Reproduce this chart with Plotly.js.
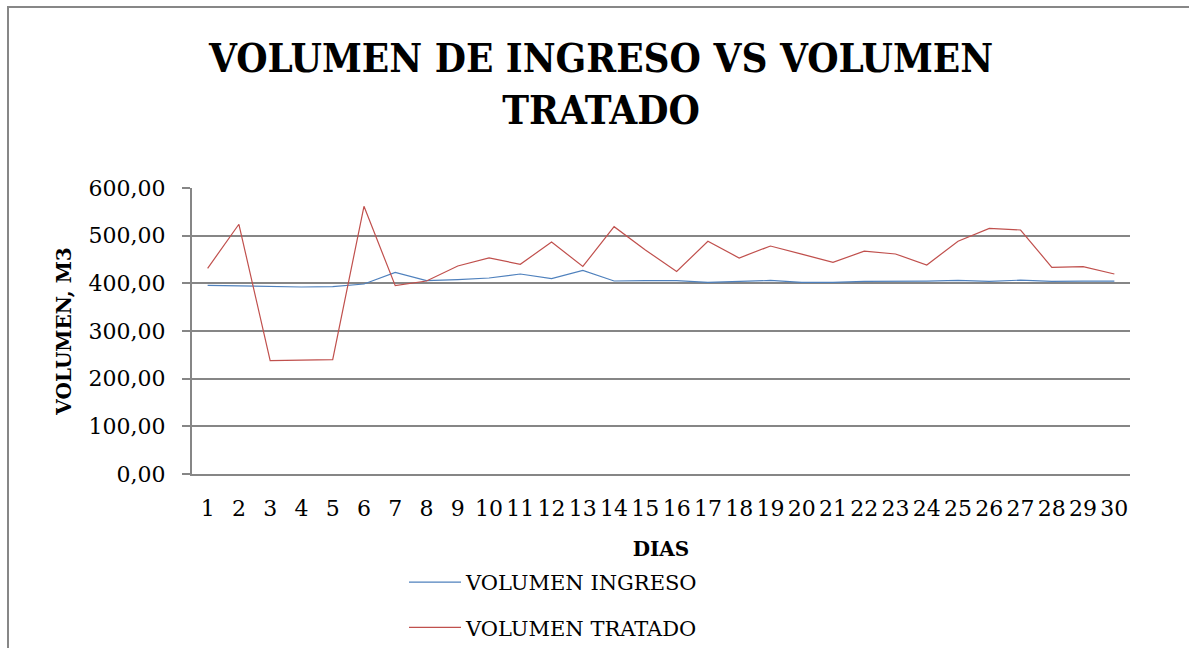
<!DOCTYPE html>
<html>
<head>
<meta charset="utf-8">
<script src="https://cdn.plot.ly/plotly-3.0.1.min.js"></script>
<style>
html,body{margin:0;padding:0;background:#fff;}
#wrap{position:relative;width:1189px;height:648px;overflow:hidden;}
#chart{width:1189px;height:648px;}
#frame{position:absolute;left:7px;top:6px;width:1400px;height:800px;border-left:2px solid #878787;border-top:2px solid #878787;pointer-events:none;}
</style>
</head>
<body>
<div id="wrap"><div id="chart"></div><div id="frame"></div></div>
<script>
const dias = ["1","2","3","4","5","6","7","8","9","10","11","12","13","14","15","16","17","18","19","20","21","22","23","24","25","26","27","28","29","30"];
const volumenIngreso = [395.8, 394.4, 394.4, 392.3, 392.9, 398.6, 423.1, 405.6, 407.7, 411.2, 419.6, 409.8, 427.3, 404.9, 405.5, 405.6, 402.0, 404.0, 406.0, 402.0, 402.0, 404.0, 404.0, 404.5, 406.0, 404.0, 406.7, 404.0, 404.5, 404.5];
const volumenTratado = [431.5, 523.9, 237.7, 238.5, 239.9, 561.6, 395.1, 404.9, 436.4, 453.2, 439.9, 486.7, 435.4, 518.9, 470.0, 424.8, 488.2, 453.2, 478.3, 461.4, 444.0, 467.5, 461.6, 438.5, 488.2, 515.4, 511.9, 433.6, 435.0, 419.6];
const yTicks = [0, 100, 200, 300, 400, 500, 600];

const serif = "DejaVu Serif, Liberation Serif, serif";
const condSerif = "DejaVu Serif Condensed, DejaVu Serif, Liberation Serif, serif";

const traces = [
  {x: dias, y: volumenIngreso, type: 'scatter', mode: 'lines', name: 'VOLUMEN INGRESO',
   legendgroup: 'a', line: {color: '#4F81BD', width: 1.2}},
  {x: dias, y: volumenTratado, type: 'scatter', mode: 'lines', name: 'VOLUMEN TRATADO',
   legendgroup: 'b', line: {color: '#C0504D', width: 1.2}}
];

const layout = {
  width: 1189, height: 648,
  paper_bgcolor: '#ffffff', plot_bgcolor: '#ffffff',
  separators: ',.',
  margin: {l: 192, r: 59, t: 188, b: 174, autoexpand: false},
  title: {
    text: 'VOLUMEN DE INGRESO VS VOLUMEN<br>TRATADO',
    font: {family: condSerif, size: 40, color: '#000', weight: 'bold'},
    x: 0.5055, xref: 'container', xanchor: 'center',
    y: 0.889, yref: 'container', yanchor: 'top'
  },
  xaxis: {
    type: 'category',
    range: [-0.5, 29.5],
    tickvals: dias, ticktext: dias,
    tickangle: 0,
    showgrid: false, zeroline: false,
    showline: true, linecolor: '#868686', linewidth: 2,
    ticks: '', ticklabelstandoff: 14,
    tickfont: {family: serif, size: 22, color: '#000'},
    title: {text: 'DIAS', font: {family: serif, size: 20, color: '#000', weight: 'bold'}, standoff: 22},
    automargin: false
  },
  yaxis: {
    range: [0, 600],
    tickvals: yTicks,
    tickformat: '.2f',
    showgrid: true, gridcolor: '#868686', gridwidth: 2,
    zeroline: false,
    showline: true, linecolor: '#868686', linewidth: 2,
    ticks: 'outside', ticklen: 8, tickcolor: '#868686', tickwidth: 2,
    ticklabelstandoff: 12,
    tickfont: {family: serif, size: 22, color: '#000'},
    title: {text: 'VOLUMEN, M3', font: {family: serif, size: 20, color: '#000', weight: 'bold'}, standoff: 12},
    automargin: false
  },
  showlegend: true,
  legend: {
    orientation: 'v',
    x: (404 - 192) / 938, xanchor: 'left',
    y: (474 - 562) / 286, yanchor: 'top',
    itemwidth: 52,
    traceorder: 'grouped', tracegroupgap: 15,
    font: {family: serif, size: 21, color: '#000'},
    bgcolor: 'rgba(0,0,0,0)'
  }
};

Plotly.newPlot('chart', traces, layout, {displayModeBar: false, staticPlot: true});
</script>
</body>
</html>
